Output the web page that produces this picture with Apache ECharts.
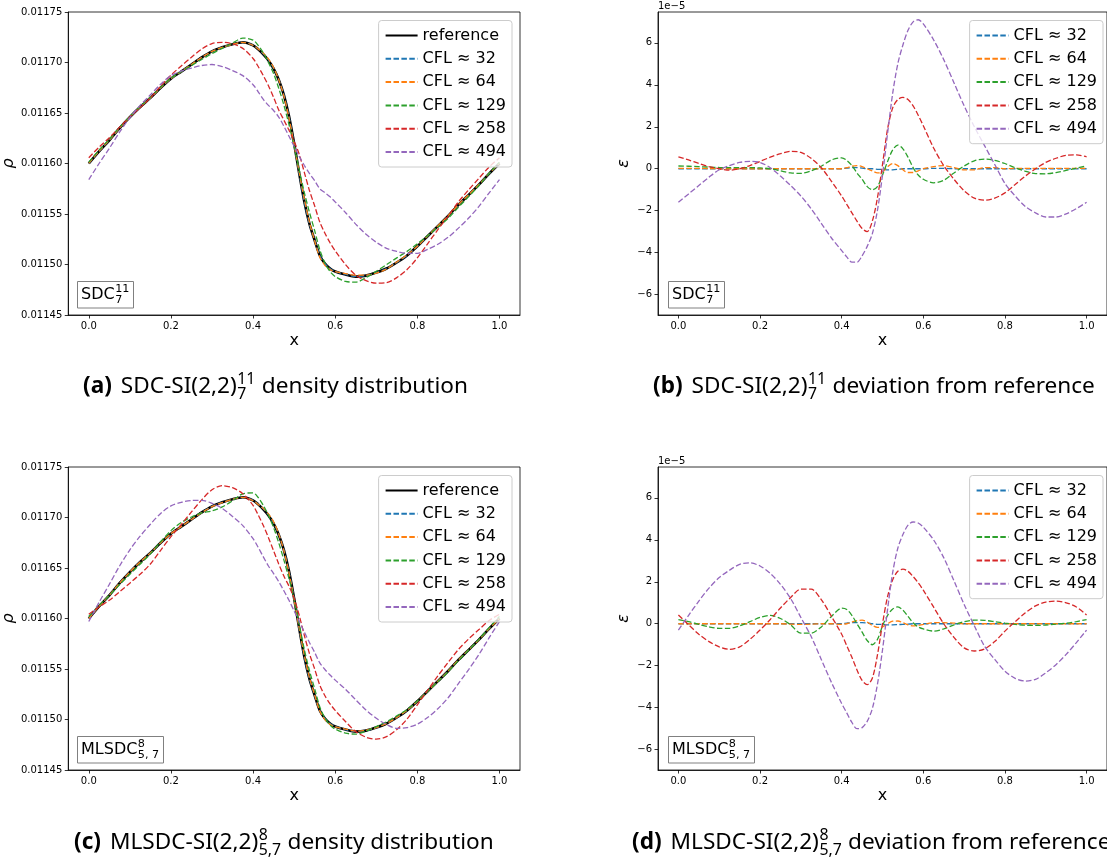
<!DOCTYPE html>
<html><head><meta charset="utf-8">
<script src="https://cdn.jsdelivr.net/npm/echarts@6/dist/echarts.min.js"></script>
<style>html,body{margin:0;padding:0;background:#fff}#c{width:1107px;height:862px}</style>
</head><body><div id="c"></div>
<script>
// ---------------- data ----------------
const X = [0,0.025,0.05,0.075,0.1,0.125,0.15,0.175,0.2,0.225,0.25,0.275,0.3,0.325,0.35,0.375,0.4,
  0.4125,0.425,0.4375,0.45,0.4625,0.475,0.4875,0.5,0.5125,0.525,0.5375,0.55,0.5625,0.575,0.5875,
  0.6,0.625,0.65,0.675,0.7,0.725,0.75,0.775,0.8,0.825,0.85,0.875,0.9,0.925,0.95,0.975,1];

// reference density
const REF = [0.011600,0.011612,0.011623,0.011635,0.011646,0.011656,0.011665,0.011675,0.011684,0.011691,0.011698,0.011705,0.011711,0.011715,0.011718,0.011720,0.011717,
  0.011713,0.011708,0.011702,0.011694,0.011683,0.011668,0.011647,0.011620,0.011590,0.011562,0.011540,0.011524,0.011509,0.011501,0.011496,
  0.011493,0.011490,0.011488,0.011489,0.011492,0.011496,0.011502,0.011509,0.011518,0.011528,0.011538,0.011548,0.011559,0.011569,0.011579,0.011590,0.011600];

// deviations from reference (units of 1e-5), SDC-SI(2,2)^11_7
const SDC_E32 = [0,0,0,0,0,0,0,0,0,0,0,0,0,0,0,0,0,
  0.03,0.05,0.05,0.03,0,0,-0.03,-0.03,-0.05,-0.05,-0.03,0,0,0,0,
  0,0.02,0.02,0,0,0,0,0,0,0,0,0,0,0,0,0,0];
const SDC_E64 = [0.02,0.02,0.02,0.01,0,0,0,0,0,0,0,0,0,0,0,0,0,
  0.05,0.12,0.15,0.1,0,-0.1,-0.2,-0.15,0.1,0.25,0.15,-0.05,-0.18,-0.18,-0.1,
  0,0.1,0.15,0.05,-0.05,-0.05,0.05,0.05,0,0.02,0.02,0.02,0.02,0.02,0.02,0.02,0.02];
const SDC_E129 = [0.13,0.12,0.1,0.08,0.06,0.05,0.05,0.05,0.04,0,-0.1,-0.2,-0.22,-0.1,0.12,0.42,0.52,
  0.4,0.15,-0.2,-0.5,-0.85,-1.0,-0.85,-0.3,0.35,0.9,1.13,0.95,0.55,0.05,-0.3,
  -0.5,-0.67,-0.55,-0.2,0.13,0.38,0.46,0.4,0.25,0.05,-0.12,-0.23,-0.24,-0.18,-0.08,0.03,0.13];
const SDC_E258 = [0.57,0.42,0.25,0.1,0,-0.07,0,0.15,0.35,0.55,0.72,0.83,0.78,0.5,0.05,-0.6,-1.3,
  -1.7,-2.1,-2.5,-2.85,-3.0,-2.5,-1.4,0.2,1.9,2.9,3.3,3.4,3.3,3.0,2.55,
  2.05,1.0,0.15,-0.5,-1.05,-1.4,-1.5,-1.4,-1.15,-0.75,-0.35,0,0.3,0.5,0.64,0.66,0.57];
const SDC_E494 = [-1.6,-1.2,-0.8,-0.4,-0.05,0.15,0.3,0.35,0.3,0.05,-0.35,-0.8,-1.3,-1.9,-2.6,-3.3,-3.9,
  -4.2,-4.45,-4.45,-4.15,-3.7,-3.1,-2.0,-0.3,1.7,3.6,5.0,5.9,6.6,7.0,7.1,
  6.9,6.15,5.2,4.1,3.0,2.0,1.1,0.2,-0.7,-1.3,-1.8,-2.1,-2.3,-2.3,-2.15,-1.9,-1.6];

// deviations from reference (units of 1e-5), MLSDC-SI(2,2)^8_{5,7}
const ML_E32 = [0,0,0,0,0,0,0,0,0,0,0,0,0,0,0,0,0,
  0.03,0.05,0.05,0.05,0.04,0,-0.03,-0.03,-0.05,-0.05,-0.04,-0.03,-0.02,0,0,
  0,0,0,0,0,0,0,0,0,0,0,0,0,0,0,0,0];
const ML_E64 = [0,0,0,0,0,0,0,0,0,0,0,-0.02,-0.03,-0.02,0,0,-0.03,
  0,0.08,0.15,0.17,0.08,-0.08,-0.17,-0.15,0,0.12,0.13,0.05,-0.05,-0.1,-0.08,
  -0.03,0.05,0.05,0.03,0,0,0,0,0,0,0,0,0,0,0,0,0];
const ML_E129 = [0.2,0.1,-0.03,-0.15,-0.22,-0.22,-0.1,0.1,0.3,0.4,0.25,-0.05,-0.45,-0.45,-0.15,0.35,0.74,
  0.68,0.4,0,-0.4,-0.8,-1.0,-0.75,-0.1,0.4,0.7,0.8,0.65,0.35,0.05,-0.15,
  -0.25,-0.35,-0.25,-0.05,0.1,0.17,0.16,0.1,0.03,-0.03,-0.07,-0.08,-0.06,-0.02,0.03,0.1,0.2];
const ML_E258 = [0.42,-0.05,-0.5,-0.85,-1.1,-1.22,-1.1,-0.75,-0.3,0.2,0.75,1.25,1.65,1.65,1.15,0.35,-0.5,
  -1.05,-1.6,-2.2,-2.7,-2.9,-2.6,-1.5,0,1.3,2.1,2.5,2.6,2.5,2.25,1.95,
  1.6,0.8,0,-0.65,-1.15,-1.3,-1.2,-0.85,-0.35,0.1,0.52,0.85,1.03,1.08,1.0,0.8,0.42];
const ML_E494 = [-0.3,0.4,1.08,1.7,2.2,2.55,2.83,2.9,2.75,2.4,1.88,1.2,0.3,-0.6,-1.7,-2.8,-3.8,
  -4.25,-4.7,-5.0,-4.95,-4.65,-4.05,-2.9,-1.25,0.7,2.45,3.6,4.25,4.7,4.85,4.8,
  4.6,4.0,3.15,2.05,0.92,-0.1,-1.07,-1.7,-2.26,-2.6,-2.73,-2.65,-2.34,-1.95,-1.46,-0.9,-0.3];

const EPS_UNIT = 1e-5;
const CFL_NAMES = ['CFL ≈ 32','CFL ≈ 64','CFL ≈ 129','CFL ≈ 258','CFL ≈ 494'];
const REF_NAME = 'reference';
const SDC_EPS = [SDC_E32, SDC_E64, SDC_E129, SDC_E258, SDC_E494];
const ML_EPS = [ML_E32, ML_E64, ML_E129, ML_E258, ML_E494];

const X_TICKS = [0,0.2,0.4,0.6,0.8,1.0];
const RHO_TICKS = [0.01145,0.0115,0.01155,0.0116,0.01165,0.0117,0.01175];
const EPS_TICKS = [-6,-4,-2,0,2,4,6];
const X_NAME = 'x', RHO_NAME = 'ρ', EPS_NAME = 'ε', EPS_OFFSET_TEXT = '1e−5';

const CAPTIONS = [
  [{t:'(a)', w:'bold'},{gap:1},{t:'SDC-SI(2,2)'},{sup:'11',sub:'7'},{t:' density distribution'}],
  [{t:'(b)', w:'bold'},{gap:1},{t:'SDC-SI(2,2)'},{sup:'11',sub:'7'},{t:' deviation from reference'}],
  [{t:'(c)', w:'bold'},{gap:1},{t:'MLSDC-SI(2,2)'},{sup:'8',sub:'5,7'},{t:' density distribution'}],
  [{t:'(d)', w:'bold'},{gap:1},{t:'MLSDC-SI(2,2)'},{sup:'8',sub:'5,7'},{t:' deviation from reference'}]
];
const TAGS = [
  [{t:'SDC'},{sup:'11',sub:'7'}],
  [{t:'SDC'},{sup:'11',sub:'7'}],
  [{t:'MLSDC'},{sup:'8',sub:'5, 7'}],
  [{t:'MLSDC'},{sup:'8',sub:'5, 7'}]
];

// ---------------- styles / layout ----------------
const COLORS = ['#1f77b4','#ff7f0e','#2ca02c','#d62728','#9467bd'];
const DASH = [5.5, 2.4];
const GRIDS = [
  {left:67, top:12, width:453, height:303},
  {left:658, top:12, width:453, height:303},
  {left:67, top:467, width:453, height:303},
  {left:658, top:467, width:453, height:303}
];
const MPL = 'DejaVu Sans';
const CAP_FONT = 'Noto Sans';

const mctx = document.createElement('canvas').getContext('2d');
function tw(t, size, fam, weight){ mctx.font = (weight||'normal')+' '+size+'px "'+fam+'"'; return mctx.measureText(t).width; }
function txt(t, x, y, size, fam, weight, z){
  return {type:'text', x:x, y:y, z:(z||100), style:{text:t, fontSize:size, fontFamily:fam, fontWeight:weight||'normal', fill:'#000',
    align:'left', verticalAlign:'middle', textAlign:'left', textVerticalAlign:'middle'}};
}
function richRow(parts, size, fam, supDy, subDy, gapPx, z, scale){
  const els=[]; let x=0; const s2=size*(scale||0.7);
  for(const p of parts){
    if(p.t!==undefined){ els.push(txt(p.t,x,0,size,fam,p.w,z)); x+=tw(p.t,size,fam,p.w); }
    else if(p.gap){ x+=gapPx; }
    else {
      let w=0;
      if(p.sup){ els.push(txt(p.sup,x+0.5,supDy,s2,fam,null,z)); w=Math.max(w,tw(p.sup,s2,fam)); }
      if(p.sub){ els.push(txt(p.sub,x+0.5,subDy,s2,fam,null,z)); w=Math.max(w,tw(p.sub,s2,fam)); }
      x+=w+1;
    }
  }
  return {els:els, width:x};
}

const graphics = [];
// captions
const CAP_CX = [275, 874, 284, 871];
const CAP_CY = [387, 387, 843, 843];
CAPTIONS.forEach((parts,i)=>{
  const r = richRow(parts, 22.6, CAP_FONT, -8, 7, 9, 100);
  graphics.push({type:'group', x: Math.round(CAP_CX[i]-r.width/2), y: CAP_CY[i], children:r.els, z:100});
});
// tag boxes
TAGS.forEach((parts,i)=>{
  const g = GRIDS[i];
  const r = richRow(parts, 16, MPL, -5.5, 5.5, 0, 120, 0.7);
  const bx = g.left+10.5, by = g.top+g.height-7-26.5, bw = Math.round(r.width+7), bh = 26.5;
  graphics.push({type:'rect', shape:{x:bx, y:by, width:bw, height:bh}, style:{fill:'#fff', stroke:'#808080', lineWidth:1}, z:110});
  graphics.push({type:'group', x: bx+3.5, y: by+13.5, children:r.els, z:120});
});
// offset text 1e-5
[1,3].forEach(i=>{
  graphics.push(txt(EPS_OFFSET_TEXT, GRIDS[i].left, GRIDS[i].top-6, 10, MPL, null, 100));
});

function xAxisFor(i){
  return {type:'value', gridIndex:i, min:-0.05, max:1.05,
    axisLine:{show:true, onZero:false, lineStyle:{color:'#000', width:0.8}},
    axisTick:{show:true, customValues:X_TICKS, length:3.5, lineStyle:{color:'#000', width:0.8}},
    axisLabel:{customValues:X_TICKS, formatter:v=>v.toFixed(1), fontSize:10, fontFamily:MPL, color:'#000', margin:6},
    splitLine:{show:false},
    name:X_NAME, nameLocation:'middle', nameGap:18, nameTextStyle:{fontSize:16, fontFamily:MPL, color:'#000'}};
}
function yAxisFor(i){
  const dens = (i===0||i===2);
  return {type:'value', gridIndex:i,
    min: dens?0.01145:-6.97, max: dens?0.01175:7.47,
    axisLine:{show:true, onZero:false, lineStyle:{color:'#000', width:0.8}},
    axisTick:{show:true, customValues: dens?RHO_TICKS:EPS_TICKS, length:3.5, lineStyle:{color:'#000', width:0.8}},
    axisLabel:{customValues: dens?RHO_TICKS:EPS_TICKS,
      formatter: dens? (v=>v.toFixed(5)) : (v=> v<0 ? '−'+Math.abs(v) : String(v)),
      fontSize:10, fontFamily:MPL, color:'#000', margin:6},
    splitLine:{show:false},
    name: dens?RHO_NAME:EPS_NAME, nameLocation:'middle', nameRotate:90, nameGap: dens?42:26,
    nameTextStyle:{fontSize:16, fontFamily:MPL, fontStyle:'italic', color:'#000'}};
}

const series = [];
function addLine(i, name, data, color, width, dashed){
  series.push({type:'line', name:name, xAxisIndex:i, yAxisIndex:i, data:data, symbol:'none', showSymbol:false,
    smooth:0.3, clip:true, animation:false,
    lineStyle:{color:color, width:width, type: dashed?DASH:'solid'}, itemStyle:{color:color}});
}
// (a) and (c): densities
[[0,SDC_EPS],[2,ML_EPS]].forEach(([gi,E])=>{
  addLine(gi, REF_NAME, X.map((x,k)=>[x, REF[k]]), '#000', 2.6, false);
  E.forEach((e,s)=> addLine(gi, CFL_NAMES[s], X.map((x,k)=>[x, REF[k] + e[k]*EPS_UNIT]), COLORS[s], 1.3, true));
});
// (b) and (d): deviations
[[1,SDC_EPS],[3,ML_EPS]].forEach(([gi,E])=>{
  E.forEach((e,s)=> addLine(gi, CFL_NAMES[s], X.map((x,k)=>[x, e[k]]), COLORS[s], 1.3, true));
});

function legendFor(i){
  const g = GRIDS[i];
  const names = (i===0||i===2) ? [REF_NAME].concat(CFL_NAMES) : CFL_NAMES;
  let right = 1107 - (g.left+g.width-8);
  if (right < 0) right = 4;
  return {orient:'vertical', data:names, right: right, top: g.top+8.5,
    selectedMode:false, itemWidth:32, itemHeight:16, itemGap:7.3, padding:[7,6,7,6],
    itemStyle:{opacity:0, borderWidth:0},
    backgroundColor:'rgba(255,255,255,0.8)', borderColor:'#cccccc', borderWidth:1, borderRadius:3,
    textStyle:{fontSize:16, fontFamily:MPL, color:'#000'}};
}

const chart = echarts.init(document.getElementById('c'), null, {renderer:'canvas'});
chart.setOption({
  animation:false, backgroundColor:'#fff',
  grid: GRIDS.map(g=>Object.assign({show:true, borderColor:'#000', borderWidth:0.8, backgroundColor:'transparent', containLabel:false}, g)),
  xAxis:[0,1,2,3].map(xAxisFor),
  yAxis:[0,1,2,3].map(yAxisFor),
  legend: [0,1,2,3].map(legendFor),
  series: series,
  graphic: graphics
});
</script></body></html>
